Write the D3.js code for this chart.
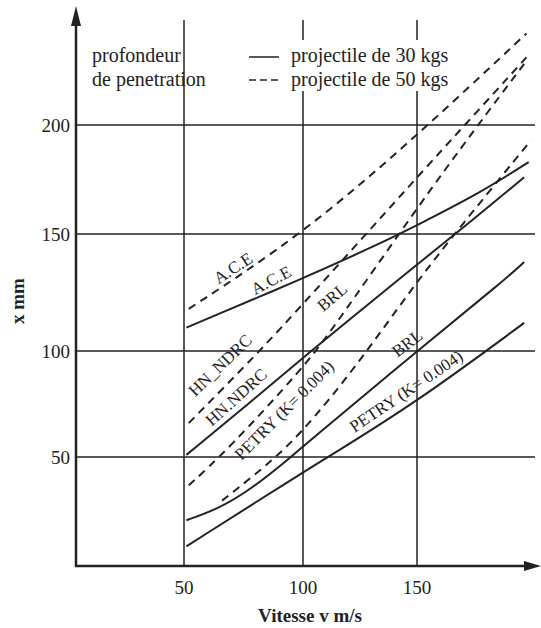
<!DOCTYPE html>
<html>
<head>
<meta charset="utf-8">
<script src="https://cdn.jsdelivr.net/npm/d3@7"></script>
<style>
  body { margin: 0; background: #fff; }
  svg { display: block; font-family: "Liberation Serif", "DejaVu Serif", serif; }
</style>
</head>
<body>
<svg id="chart" width="541" height="628"></svg>
<script>
// tick values
var xTicks = [50, 100, 150];
var yTicks = [50, 100, 150, 200];

// 30 kg projectile (solid)
var ace30 = [[51, 110], [100, 131], [134, 146], [150, 154], [178, 169], [199, 183]];
var hn30 = [[51, 51], [76, 74], [100, 97], [150, 137], [168, 151], [197, 176]];
var brl30 = [[51, 21], [64, 26], [78, 35], [95, 50], [100, 55], [150, 100], [188, 130], [197, 138]];
var petry30 = [[51, 9], [100, 43], [111, 50], [150, 76], [197, 112]];

// 50 kg projectile (dashed)
var ace50 = [[52, 118], [100, 150], [150, 195], [198, 242]];
var hn50 = [[52, 66], [81, 99], [100, 120], [150, 176], [171, 200], [198, 231]];
var brl50 = [[52, 37], [68, 53], [100, 92], [112, 108], [150, 162], [176, 199], [197, 228]];
var petry50 = [[66, 30], [80, 42], [98, 59], [125, 95], [150, 130], [175, 161], [200, 193]];

var svg = d3.select('#chart');

var x = d3.scaleLinear()
  .domain([4, 50, 100, 150, 200])
  .range([76, 184, 303, 417, 531]);
var y = d3.scaleLinear()
  .domain([0, 50, 100, 150, 200])
  .range([566, 457, 351, 234, 125]);

var ink = '#222';

// grid
var gridG = svg.append('g');
gridG.selectAll('.vgrid')
  .data(xTicks)
  .enter().append('line')
  .attr('x1', d => x(d)).attr('x2', d => x(d))
  .attr('y1', 20).attr('y2', y(0))
  .attr('stroke', ink).attr('stroke-width', 1.5);
gridG.selectAll('.hgrid')
  .data(yTicks)
  .enter().append('line')
  .attr('x1', x(4)).attr('x2', 535)
  .attr('y1', d => y(d)).attr('y2', d => y(d))
  .attr('stroke', ink).attr('stroke-width', 1.5);

// legend box hides grid
svg.append('rect')
  .attr('x', 236).attr('y', 40).attr('width', 220).attr('height', 51)
  .attr('fill', '#fff');

// curves
var line = d3.line()
  .x(d => x(d[0]))
  .y(d => y(d[1]))
  .curve(d3.curveBasis);

var series = [
  { data: ace30, dash: null },
  { data: hn30, dash: null },
  { data: brl30, dash: null },
  { data: petry30, dash: null },
  { data: ace50, dash: '8,6' },
  { data: hn50, dash: '8,6' },
  { data: brl50, dash: '8,6' },
  { data: petry50, dash: '8,6' }
];
svg.selectAll('.curve')
  .data(series)
  .enter().append('path')
  .attr('class', 'curve')
  .attr('d', d => line(d.data))
  .attr('fill', 'none')
  .attr('stroke', ink)
  .attr('stroke-width', 2)
  .attr('stroke-dasharray', d => d.dash);

// axes
svg.append('line')
  .attr('x1', x(4)).attr('x2', x(4))
  .attr('y1', y(0) + 1).attr('y2', 20)
  .attr('stroke', ink).attr('stroke-width', 2.5);
svg.append('path')
  .attr('d', 'M' + x(4) + ',6 L' + (x(4) - 5) + ',26 L' + (x(4) + 5) + ',26 Z')
  .attr('fill', ink);
svg.append('line')
  .attr('x1', x(4) - 1).attr('x2', 528)
  .attr('y1', y(0)).attr('y2', y(0))
  .attr('stroke', ink).attr('stroke-width', 2.5);
svg.append('path')
  .attr('d', 'M541,' + y(0) + ' L524,' + (y(0) - 5) + ' L524,' + (y(0) + 5) + ' Z')
  .attr('fill', ink);

// tick labels
svg.selectAll('.xlab')
  .data(xTicks)
  .enter().append('text')
  .attr('x', d => x(d)).attr('y', 594)
  .attr('text-anchor', 'middle')
  .style('font-size', '19px')
  .attr('fill', ink)
  .text(d => d);
svg.selectAll('.ylab')
  .data(yTicks)
  .enter().append('text')
  .attr('x', 70).attr('y', d => y(d) + 7)
  .attr('text-anchor', 'end')
  .style('font-size', '19px')
  .attr('fill', ink)
  .text(d => d);

// axis titles
svg.append('text')
  .attr('x', 310).attr('y', 622)
  .attr('text-anchor', 'middle')
  .style('font-size', '19px').style('font-weight', 'bold')
  .attr('fill', ink)
  .text('Vitesse v m/s');
svg.append('text')
  .attr('transform', 'translate(24,301) rotate(-90)')
  .attr('text-anchor', 'middle')
  .style('font-size', '19px').style('font-weight', 'bold')
  .attr('fill', ink)
  .text('x mm');

// legend
svg.append('text').attr('x', 92).attr('y', 62)
  .style('font-size', '20px').attr('fill', ink).text('profondeur');
svg.append('text').attr('x', 92).attr('y', 86)
  .style('font-size', '20px').attr('fill', ink).text('de penetration');
svg.append('line').attr('x1', 249).attr('x2', 279).attr('y1', 57).attr('y2', 57)
  .attr('stroke', ink).attr('stroke-width', 1.5);
svg.append('line').attr('x1', 249).attr('x2', 279).attr('y1', 80).attr('y2', 80)
  .attr('stroke', ink).attr('stroke-width', 1.5).attr('stroke-dasharray', '7,4');
svg.append('text').attr('x', 291).attr('y', 62)
  .style('font-size', '20px').attr('fill', ink).text('projectile de 30 kgs');
svg.append('text').attr('x', 291).attr('y', 86)
  .style('font-size', '20px').attr('fill', ink).text('projectile de 50 kgs');

// curve labels
var labels = [
  { t: 'A.C.E', cx: 233, cy: 268, a: -33 },
  { t: 'A.C.E', cx: 271, cy: 280, a: -28 },
  { t: 'HN_NDRC', cx: 220, cy: 365, a: -44 },
  { t: 'HN.NDRC', cx: 236, cy: 397, a: -42 },
  { t: 'BRL', cx: 332, cy: 297, a: -40 },
  { t: 'BRL', cx: 407, cy: 343, a: -37 },
  { t: 'PETRY (K= 0.004)', cx: 284, cy: 410, a: -45 },
  { t: 'PETRY (K= 0.004)', cx: 406, cy: 391, a: -34 }
];
svg.selectAll('.clab')
  .data(labels)
  .enter().append('text')
  .attr('transform', d => 'translate(' + [d.cx, d.cy] + ') rotate(' + d.a + ')')
  .attr('text-anchor', 'middle')
  .attr('dy', '0.35em')
  .style('font-size', '17px')
  .attr('fill', ink)
  .text(d => d.t);
</script>
</body>
</html>
